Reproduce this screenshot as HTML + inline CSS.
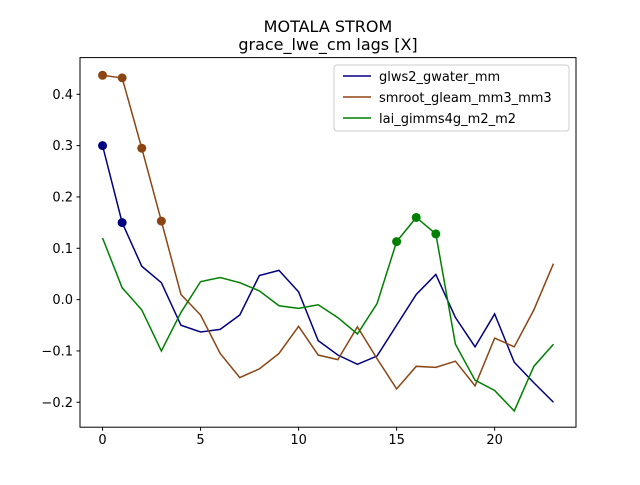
<!DOCTYPE html>
<html><head><meta charset="utf-8"><style>
body{margin:0;background:#fff;}
svg text{font-family:"DejaVu Sans","Liberation Sans",sans-serif;}
</style></head><body>
<svg id="chart" width="640" height="480" xmlns="http://www.w3.org/2000/svg">
<rect width="640" height="480" fill="#fff"/>
<text x="328" y="32" text-anchor="middle" font-size="16">MOTALA STROM</text>
<text x="328" y="50" text-anchor="middle" font-size="16">grace_lwe_cm lags [X]</text>
<g id="ticks"></g>
<g id="series"></g>
<rect x="80" y="57.6" width="496" height="369.6" fill="none" stroke="#000" stroke-width="1"/>
<g id="legend">
<rect x="334" y="65" width="235" height="66" rx="3" fill="#fff" stroke="#ccc"/>
</g>
</svg>
<script>
const lags=[0,1,2,3,4,5,6,7,8,9,10,11,12,13,14,15,16,17,18,19,20,21,22,23];
const glws=[0.30,0.15,0.065,0.033,-0.05,-0.063,-0.058,-0.03,0.047,0.057,0.015,-0.08,-0.108,-0.126,-0.11,-0.05,0.01,0.049,-0.035,-0.092,-0.028,-0.122,-0.162,-0.2];
const smroot=[0.437,0.432,0.295,0.153,0.01,-0.03,-0.105,-0.152,-0.135,-0.105,-0.052,-0.108,-0.117,-0.053,-0.115,-0.174,-0.13,-0.132,-0.12,-0.168,-0.075,-0.092,-0.02,0.07];
const lai=[0.12,0.023,-0.02,-0.1,-0.025,0.035,0.043,0.033,0.017,-0.012,-0.017,-0.01,-0.035,-0.067,-0.008,0.113,0.16,0.128,-0.087,-0.157,-0.177,-0.217,-0.13,-0.087];
const glwsMarks=[0,1];
const smrootMarks=[0,1,2,3];
const laiMarks=[15,16,17];
const xTicks=[0,5,10,15,20];
const yTicks=[-0.2,-0.1,0.0,0.1,0.2,0.3,0.4];
const names=["glws2_gwater_mm","smroot_gleam_mm3_mm3","lai_gimms4g_m2_m2"];

const NS="http://www.w3.org/2000/svg";
const L=80,R=576,T=57.6,B=427.2,x0=-1.15,x1=24.15,y0=-0.2486,y1=0.4715;
const sx=v=>L+(v-x0)/(x1-x0)*(R-L);
const sy=v=>B-(v-y0)/(y1-y0)*(B-T);
function mk(tag,at,parent){const e=document.createElementNS(NS,tag);for(const k in at)e.setAttribute(k,at[k]);parent.appendChild(e);return e;}
const tg=document.getElementById('ticks');
xTicks.forEach(t=>{
  const l=mk('line',{x1:sx(t),x2:sx(t),y1:B,y2:B+3.5,stroke:'#000'},tg);
  
  
  const tx=mk('text',{x:sx(t),y:B+17,'text-anchor':'middle','font-size':'13'},tg);
  tx.textContent=t;
  
  
});
yTicks.forEach(t=>{
  const l=mk('line',{x1:L-3.5,x2:L,y1:sy(t),y2:sy(t),stroke:'#000'},tg);
  
  
  const tx=mk('text',{x:L-7,y:sy(t)+4.5,'text-anchor':'end','font-size':'13'},tg);
  tx.textContent=(t<0?'\u2212':'')+Math.abs(t).toFixed(1);
  
  
});
const sg=document.getElementById('series');
const defs=[[glws,glwsMarks,'#000080','glws2'],[smroot,smrootMarks,'#8b4513','smroot'],[lai,laiMarks,'#008000','lai']];
defs.forEach(([vals,marks,col,nm])=>{
  const p=mk('polyline',{points:lags.map((x,i)=>sx(x)+','+sy(vals[i])).join(' '),fill:'none',stroke:col,'stroke-width':1.5},sg);
  
  
  marks.forEach(i=>{
    const c=mk('circle',{cx:sx(lags[i]),cy:sy(vals[i]),r:4.5,fill:col},sg);
    
    
  });
});
const lg=document.getElementById('legend');
defs.forEach(([v,m,col,nm],k)=>{
  const y=76+k*21;
  const l=mk('line',{x1:343,x2:371,y1:y,y2:y,stroke:col,'stroke-width':1.5},lg);
  
  
  const t=mk('text',{x:379,y:y+5,'font-size':'13'},lg);
  t.textContent=names[k];
  
  
});
</script>
</body></html>
